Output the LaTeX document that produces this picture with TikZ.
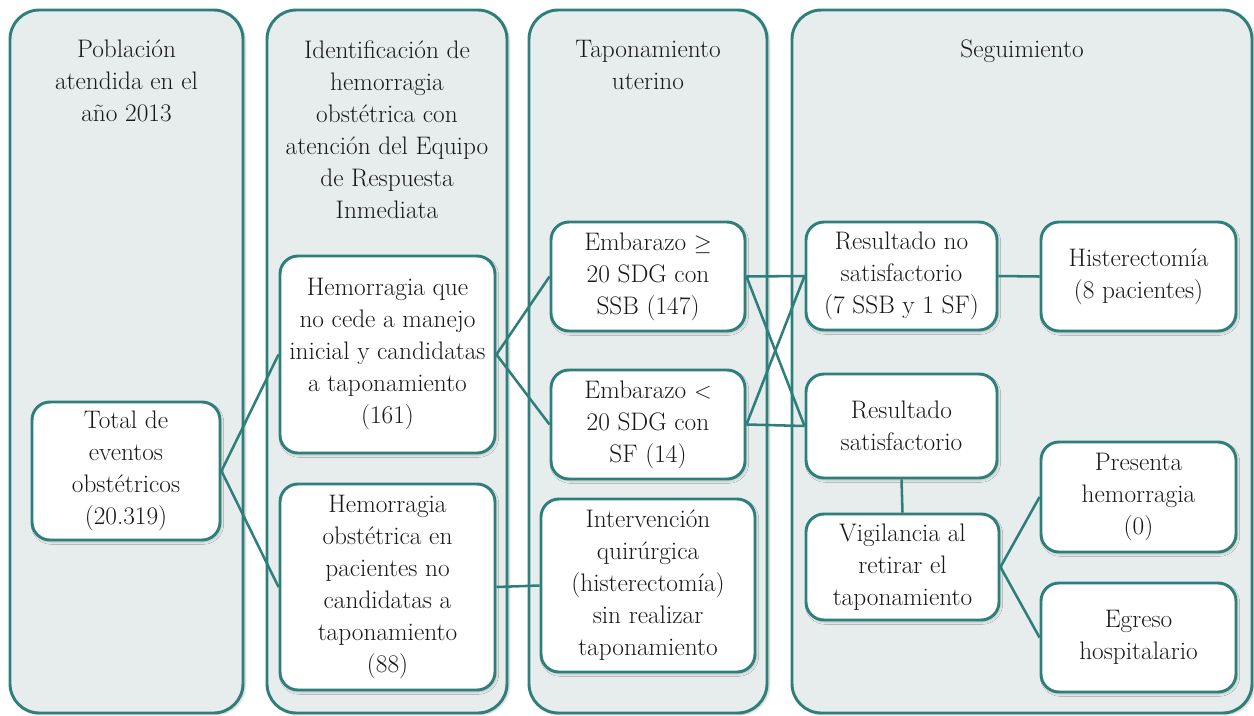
\documentclass[tikz,border=0pt]{standalone}
\usetikzlibrary{shadows.blur}
\definecolor{tealc}{HTML}{2E7F7B}
\definecolor{colfill}{HTML}{E7EDED}
\definecolor{ink}{HTML}{1A1718}
\tikzset{
  column/.style={draw=tealc, line width=2.2pt, fill=colfill, rounded corners=22pt,
    blur shadow={shadow xshift=1.5pt, shadow yshift=-1pt, shadow blur steps=6, shadow opacity=25}},
  box/.style={draw=tealc, line width=2.2pt, fill=white, rounded corners=13.5pt,
    align=center, inner sep=0pt, text=ink,
    blur shadow={shadow xshift=1pt, shadow yshift=-1.5pt, shadow blur steps=5, shadow opacity=20}},
  head/.style={align=center, inner sep=0pt, text=ink, anchor=north},
  link/.style={draw=tealc, line width=1.9pt},
}
\begin{document}
\begin{tikzpicture}[x=0.75pt,y=-0.75pt,font=\fontsize{19}{24}\selectfont]
\useasboundingbox (0,0) rectangle (1254,715);
% columns
\draw[column] (10,10) rectangle (243,713);
\draw[column] (267,10) rectangle (507,713);
\draw[column] (529,10) rectangle (767,713);
\draw[column] (792,10) rectangle (1252,713);
% headers
\node[head] (h1) at (126.5,40) {Población\\atendida en el\\año 2013};
\node[head] (h2) at (387,40) {Identificación de\\hemorragia\\obstétrica con\\atención del Equipo\\de Respuesta\\Inmediata};
\node[head] (h3) at (648,40) {Taponamiento\\uterino};
\node[head] (h4) at (1022,40) {Seguimiento};
% nodes
\node[box, minimum width=141pt, minimum height=103.5pt] (tot) at (126,471) {Total de\\eventos\\obstétricos\\(20.319)};
\node[box, minimum width=161.25pt, minimum height=147.75pt] (hem1) at (387.5,354.5) {Hemorragia que\\no cede a manejo\\inicial y candidatas\\a taponamiento\\(161)};
\node[box, minimum width=161.25pt, minimum height=154.5pt] (hem2) at (387.5,587) {Hemorragia\\obstétrica en\\pacientes no\\candidatas a\\taponamiento\\(88)};
\node[box, minimum width=145.5pt, minimum height=81.75pt] (emb1) at (648,276.5) {Embarazo $\geq$\\20 SDG con\\SSB (147)};
\node[box, minimum width=145.5pt, minimum height=81.75pt] (emb2) at (648,424.5) {Embarazo $<$\\20 SDG con\\SF (14)};
\node[box, minimum width=160.5pt, minimum height=129.75pt] (int) at (648,585.5) {Intervención\\quirúrgica\\(histerectomía)\\sin realizar\\taponamiento};
\node[box, minimum width=143.25pt, minimum height=81pt] (rno) at (901.5,276) {Resultado no\\satisfactorio\\(7 SSB y 1 SF)};
\node[box, minimum width=143.25pt, minimum height=78pt] (rsi) at (901.5,426) {Resultado\\satisfactorio};
\node[box, minimum width=146.25pt, minimum height=81.75pt] (hist) at (1138.5,276.5) {Histerectomía\\(8 pacientes)};
\node[box, minimum width=144.75pt, minimum height=79.5pt] (vig) at (902.5,567) {Vigilancia al\\retirar el\\taponamiento};
\node[box, minimum width=146.25pt, minimum height=82.5pt] (pre) at (1138.5,497) {Presenta\\hemorragia\\(0)};
\node[box, minimum width=146.25pt, minimum height=81.75pt] (egr) at (1138.5,637.5) {Egreso\\hospitalario};
% connectors
\draw[link] (tot.east) -- (hem1.west);
\draw[link] (tot.east) -- (hem2.west);
\draw[link] (hem1.east) -- (emb1.west);
\draw[link] (hem1.east) -- (emb2.west);
\draw[link] (hem2.east) -- (int.west);
\draw[link] (emb1.east) -- (rno.west);
\draw[link] (emb1.east) -- (rsi.west);
\draw[link] (emb2.east) -- (rno.west);
\draw[link] (emb2.east) -- (rsi.west);
\draw[link] (rno.east) -- (hist.west);
\draw[link] (rsi.south) -- (vig.north);
\draw[link] (vig.east) -- (pre.west);
\draw[link] (vig.east) -- (egr.west);
\end{tikzpicture}
\end{document}
